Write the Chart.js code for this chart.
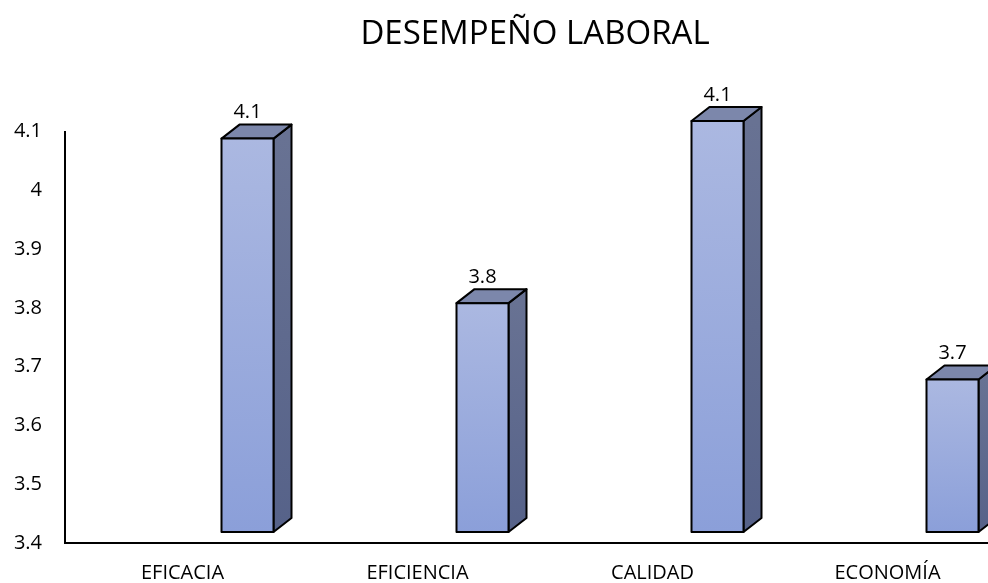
<!DOCTYPE html>
<html>
<head>
<meta charset="utf-8">
<script src="https://cdn.jsdelivr.net/npm/chart.js@4.4.1/dist/chart.umd.min.js"></script>
<style>
    html, body { margin: 0; padding: 0; background: #fff; overflow: hidden; }
    #wrap { width: 1005px; height: 583px; }
</style>
</head>
<body>
<div id="wrap"><canvas id="chart" width="1005" height="583"></canvas></div>
<script>
// Chart data
const categories = ['EFICACIA', 'EFICIENCIA', 'CALIDAD', 'ECONOMÍA'];
const values = [4.10, 3.82, 4.13, 3.69];
const yTicks = [3.4, 3.5, 3.6, 3.7, 3.8, 3.9, 4, 4.1];

// 3D look
const FRONT_OFFSET = 39;   // from category centre to front face left edge
const FRONT_WIDTH = 52;
const DEPTH_X = 18;
const DEPTH_Y = 14;
const FLOOR_LIFT = 11;

// Draws the pseudo-3D columns on top of the (transparent) bar elements
const bars3d = {
    id: 'bars3d',
    afterDatasetsDraw(chart) {
        const ctx = chart.ctx;
        const meta = chart.getDatasetMeta(0);
        const yScale = chart.scales.y;
        const floor = yScale.getPixelForValue(yScale.min);
        ctx.save();
        ctx.lineJoin = 'round';
        ctx.lineWidth = 2;
        ctx.strokeStyle = '#000';

        meta.data.forEach((el, i) => {
            const x0 = el.x + FRONT_OFFSET;
            const x1 = x0 + FRONT_WIDTH;
            const top = el.y + DEPTH_Y / 2;
            const bottom = floor - FLOOR_LIFT;

            // side face
            const side = ctx.createLinearGradient(0, top, 0, bottom);
            side.addColorStop(0, '#687293');
            side.addColorStop(1, '#566289');
            ctx.beginPath();
            ctx.moveTo(x1, top);
            ctx.lineTo(x1 + DEPTH_X, top - DEPTH_Y);
            ctx.lineTo(x1 + DEPTH_X, bottom - DEPTH_Y);
            ctx.lineTo(x1, bottom);
            ctx.closePath();
            ctx.fillStyle = side;
            ctx.fill();
            ctx.stroke();

            // top face
            ctx.beginPath();
            ctx.moveTo(x0, top);
            ctx.lineTo(x0 + DEPTH_X, top - DEPTH_Y);
            ctx.lineTo(x1 + DEPTH_X, top - DEPTH_Y);
            ctx.lineTo(x1, top);
            ctx.closePath();
            ctx.fillStyle = '#7c87ab';
            ctx.fill();
            ctx.stroke();

            // front face
            const front = ctx.createLinearGradient(0, top, 0, bottom);
            front.addColorStop(0, '#abb8e1');
            front.addColorStop(1, '#8b9fd9');
            ctx.beginPath();
            ctx.rect(x0, top, FRONT_WIDTH, bottom - top);
            ctx.fillStyle = front;
            ctx.fill();
            ctx.stroke();

            // value label
            ctx.fillStyle = '#000';
            ctx.font = '20px "Open Sans"';
            ctx.textAlign = 'center';
            ctx.textBaseline = 'middle';
            ctx.fillText(values[i].toFixed(1), x0 + FRONT_WIDTH / 2, top - DEPTH_Y - 12);
        });
        ctx.restore();
    }
};

const ctx = document.getElementById('chart');
new Chart(ctx, {
    type: 'bar',
    data: {
        labels: categories,
        datasets: [{
            data: values,
            backgroundColor: 'rgba(0,0,0,0)',
            borderWidth: 0
        }]
    },
    options: {
        responsive: false,
        animation: false,
        events: [],
        layout: { padding: { left: 0, right: 0, top: 0, bottom: 0 } },
        plugins: {
            legend: { display: false },
            tooltip: { enabled: false },
            title: {
                display: true,
                text: 'DESEMPEÑO LABORAL',
                fullSize: false,
                color: '#000',
                font: { family: '"Open Sans"', size: 33, weight: 'normal' },
                padding: { top: 15, bottom: 77 }
            }
        },
        scales: {
            x: {
                grid: { display: false, drawTicks: false },
                border: { display: true, color: '#000', width: 2 },
                ticks: {
                    color: '#000',
                    padding: 18,
                    font: { family: '"Open Sans"', size: 20 }
                },
                afterFit(scale) { scale.height = 40; }
            },
            y: {
                min: 3.4,
                max: 4.1,
                grid: { display: false, drawTicks: false },
                border: { display: true, color: '#000', width: 2 },
                afterBuildTicks(scale) {
                    scale.ticks = yTicks.map(v => ({ value: v }));
                },
                ticks: {
                    color: '#000',
                    padding: 23,
                    font: { family: '"Open Sans"', size: 20 },
                    callback: v => String(Math.round(v * 10) / 10)
                },
                afterFit(scale) { scale.width = 65; }
            }
        }
    },
    plugins: [bars3d]
});
</script>
</body>
</html>
